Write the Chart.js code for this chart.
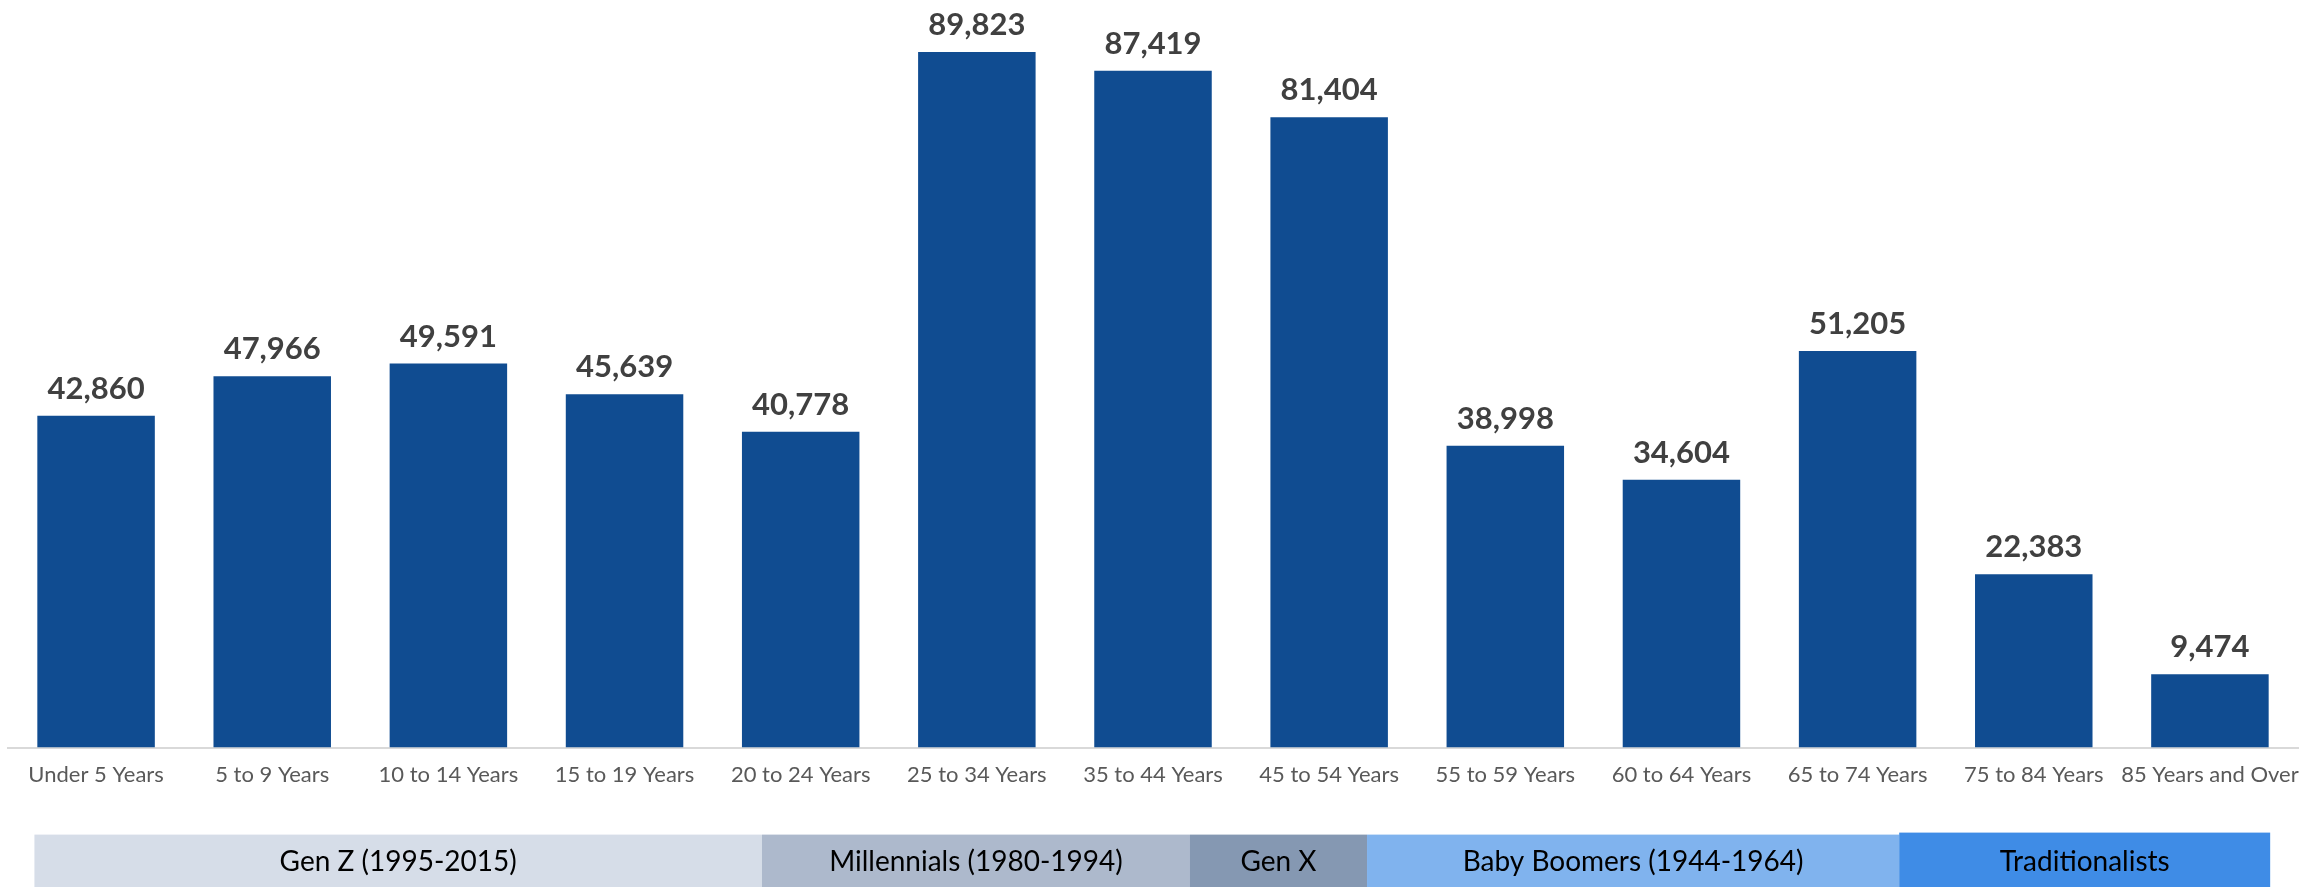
<!DOCTYPE html>
<html>
<head>
<meta charset="utf-8">
<title>Population by Age Group</title>
<script src="https://cdn.jsdelivr.net/npm/chart.js@4"></script>
<style>
    html, body { margin: 0; padding: 0; background: #ffffff; }
    #wrap { width: 2323px; height: 887px; position: relative; }
</style>
</head>
<body>
<div id="wrap"><canvas id="graphCanvas"></canvas></div>
<script>
// age groups and head counts
var ageGroups = ['Under 5 Years', '5 to 9 Years', '10 to 14 Years', '15 to 19 Years', '20 to 24 Years',
    '25 to 34 Years', '35 to 44 Years', '45 to 54 Years', '55 to 59 Years', '60 to 64 Years',
    '65 to 74 Years', '75 to 84 Years', '85 Years and Over'];
var population = [42860, 47966, 49591, 45639, 40778, 89823, 87419, 81404, 38998, 34604, 51205, 22383, 9474];

// generation bands under the axis, spans given in category index units
var generations = ['Gen Z (1995-2015)', 'Millennials (1980-1994)', 'Gen X', 'Baby Boomers (1944-1964)', 'Traditionalists'];
var genStart = [-0.35, 3.78, 6.21, 7.215, 10.236];
var genEnd = [3.78, 6.21, 7.215, 10.236, 12.342];
var genColors = ['#d6dde8', '#adb9cc', '#8598b2', '#80b3ee', '#3f8ce6'];

// value labels above each bar
var valueLabels = {
    id: 'valueLabels',
    afterDatasetsDraw: function (chart) {
        var ctx = chart.ctx;
        var meta = chart.getDatasetMeta(0);
        ctx.save();
        ctx.font = 'bold 31px Lato';
        ctx.fillStyle = '#404040';
        ctx.textAlign = 'center';
        ctx.textBaseline = 'alphabetic';
        meta.data.forEach(function (bar, i) {
            ctx.fillText(population[i].toLocaleString('en-US'), bar.x, bar.y - 17);
        });
        ctx.restore();
    }
};

// coloured generation strip along the bottom
var genBands = {
    id: 'genBands',
    afterDraw: function (chart) {
        var ctx = chart.ctx;
        var x = chart.scales.x;
        var top = chart.chartArea.bottom + 87;
        var bottom = chart.height;
        ctx.save();
        ctx.font = '28px Lato';
        ctx.textAlign = 'center';
        ctx.textBaseline = 'middle';
        for (var i = 0; i < generations.length; i++) {
            var x0 = x.getPixelForValue(genStart[i]);
            var x1 = x.getPixelForValue(genEnd[i]);
            // last band sits a touch higher
            var t = i === generations.length - 1 ? top - 2 : top;
            ctx.fillStyle = genColors[i];
            ctx.fillRect(x0, t, x1 - x0, bottom - t);
            ctx.fillStyle = '#000000';
            ctx.fillText(generations[i], (x0 + x1) / 2, (top + bottom) / 2 + 1);
        }
        ctx.restore();
    }
};

new Chart(document.getElementById('graphCanvas'), {
    type: 'bar',
    data: {
        labels: ageGroups,
        datasets: [{
            data: population,
            backgroundColor: '#104c91',
            borderWidth: 0,
            categoryPercentage: 1,
            barPercentage: 0.667
        }]
    },
    options: {
        responsive: true,
        maintainAspectRatio: false,
        animation: false,
        layout: { padding: { left: 8, right: 25, top: 12, bottom: 85 } },
        plugins: {
            legend: { display: false },
            tooltip: { enabled: false }
        },
        scales: {
            x: {
                grid: { display: false, drawTicks: false },
                border: { display: true, color: '#d9d9d9', width: 2 },
                ticks: {
                    color: '#595959',
                    font: { family: 'Lato', size: 22 },
                    padding: 14,
                    maxRotation: 0,
                    autoSkip: false
                }
            },
            y: {
                display: false,
                min: 0,
                max: 95000
            }
        }
    },
    plugins: [valueLabels, genBands]
});
</script>
</body>
</html>
